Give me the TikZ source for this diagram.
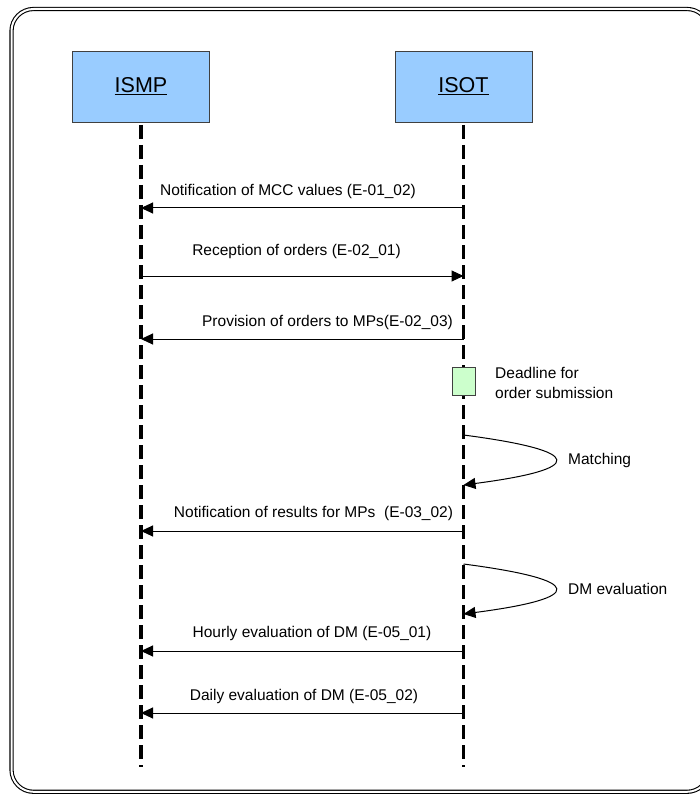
\documentclass[tikz,border=0pt]{standalone}
\usepackage{fontspec}
\setmainfont{Liberation Sans}
\usetikzlibrary{arrows.meta}
\definecolor{actorblue}{HTML}{99CCFF}
\definecolor{deadgreen}{HTML}{CCFFCC}
\begin{document}
\begin{tikzpicture}[x=1pt,y=-1pt,
  frame/.style={draw=black, double=white, double distance=2pt, line width=1.1pt},
  actor/.style={draw=black!75, fill=actorblue, line width=0.8pt, minimum width=137pt, minimum height=71pt, inner sep=0pt, font=\fontsize{21.5}{26}\selectfont},
  lifeline/.style={line width=3.2pt, dash pattern=on 14pt off 6pt},
  msg/.style={line width=1pt, -{Triangle[length=12pt,width=11pt]}},
  lbl/.style={font=\fontsize{15.5}{20}\selectfont, inner sep=0pt},
  markbox/.style={draw=black!75, fill=deadgreen, line width=0.8pt, minimum width=23pt, minimum height=28pt, inner sep=0pt},
]
\useasboundingbox (0,0) rectangle (699,794);
% outer frame (its right side lies beyond the picture edge)
\draw[frame] (702,14.9) arc[start angle=-47, end angle=-90, radius=22]
  -- (33.5,9) arc[start angle=-90, end angle=-180, radius=22]
  -- (11.5,769.8) arc[start angle=180, end angle=90, radius=22]
  -- (687,791.8) arc[start angle=90, end angle=47, radius=22];

% actors
\node[actor] (ismp) at (141,86.5) {\underline{ISMP}};
\node[actor] (isot) at (463.5,86.5) {\underline{ISOT}};

% lifeline ends
\coordinate (ismptop) at (141,125);
\coordinate (isottop) at (463.5,125);
\coordinate (ismpend) at (141,767);
\coordinate (isotend) at (463.5,767);
\draw[lifeline] (ismptop) -- (ismpend);
\draw[lifeline] (isottop) -- (isotend);

% message end points
\coordinate (a1) at (463.5,208); \coordinate (b1) at (141,208);
\coordinate (a2) at (141,276);   \coordinate (b2) at (463.5,276);
\coordinate (a3) at (463.5,339); \coordinate (b3) at (141,339);
\coordinate (a6) at (463.5,531); \coordinate (b6) at (141,531);
\coordinate (a8) at (463.5,651); \coordinate (b8) at (141,651);
\coordinate (a9) at (463.5,713); \coordinate (b9) at (141,713);

\draw[msg] (a1) -- (b1);
\draw[msg] (a2) -- (b2);
\draw[msg] (a3) -- (b3);
\draw[msg] (a6) -- (b6);
\draw[msg] (a8) -- (b8);
\draw[msg] (a9) -- (b9);

\node[lbl] (t1) at (288,191) {Notification of MCC values (E-01\_02)};
\node[lbl] (t2) at (296.5,251) {Reception of orders (E-02\_01)};
\node[lbl] (t3) at (327.5,322) {Provision of orders to MPs(E-02\_03)};
\node[lbl] (t6) at (313.5,513) {Notification of results for MPs\ \ (E-03\_02)};
\node[lbl] (t8) at (312,633) {Hourly evaluation of DM (E-05\_01)};
\node[lbl] (t9) at (304,696) {Daily evaluation of DM (E-05\_02)};

% deadline marker
\node[markbox] (dl) at (463.5,381) {};
\node[lbl, anchor=west, align=left] (dlt) at (495,383) {Deadline for\\order submission};

% self loops
\coordinate (m1s) at (463.5,435); \coordinate (m1e) at (463.5,485);
\draw[msg] (m1s) .. controls (586,451) and (586,469) .. (m1e);
\node[lbl, anchor=west] (mt) at (568,460) {Matching};

\coordinate (m2s) at (463.5,564); \coordinate (m2e) at (463.5,614);
\draw[msg] (m2s) .. controls (586,580) and (586,598) .. (m2e);
\node[lbl, anchor=west] (dmt) at (568,589) {DM evaluation};
\end{tikzpicture}
\end{document}
